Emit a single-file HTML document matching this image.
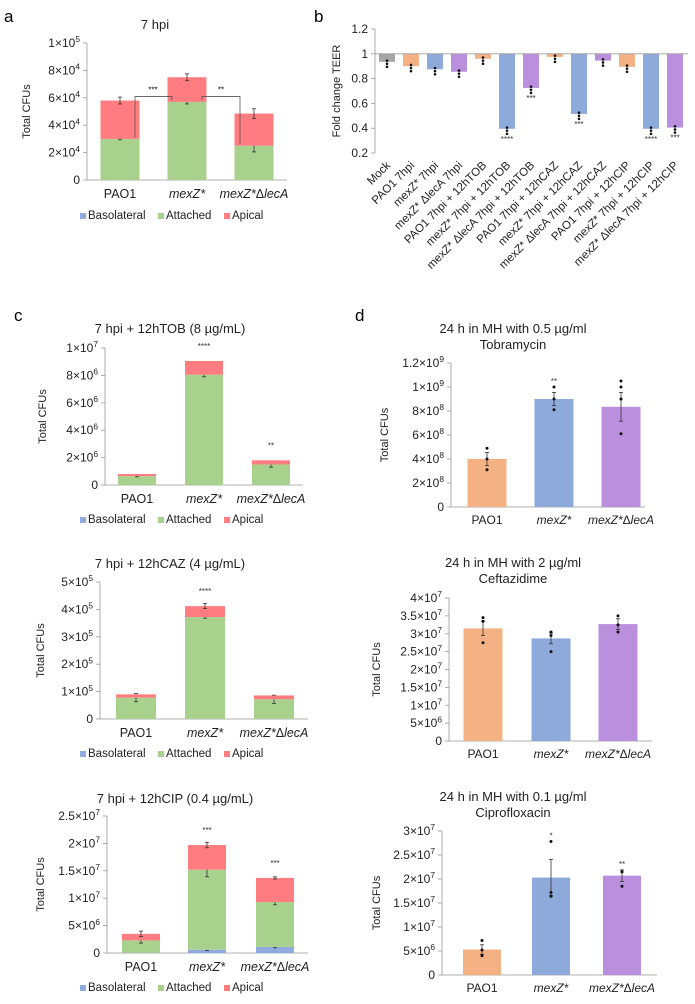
<!DOCTYPE html>
<html><head><meta charset="utf-8">
<style>
body{margin:0;background:#fff;width:695px;height:999px;overflow:hidden}
svg{font-family:"Liberation Sans",Arial,sans-serif}
</style></head>
<body>
<svg id="fig" width="695" height="999" viewBox="0 0 695 999" xmlns="http://www.w3.org/2000/svg">
<text x="4" y="22" font-size="17">a</text>
<text x="314" y="22" font-size="17">b</text>
<text x="14" y="321" font-size="17">c</text>
<text x="355" y="321" font-size="17">d</text>
</svg>
<script>
// ---------- data ----------
const strains = ["PAO1","mexZ*","mexZ*ΔlecA"];
// panel a (segments: basolateral, attached, apical)
const aBaso = [0,0,0];
const aAtt = [30000,57000,25000];
const aApi = [28000,18000,23500];
// panel c TOB
const tobBaso = [0,0,0];
const tobAtt = [650000,8050000,1500000];
const tobApi = [150000,1000000,300000];
// panel c CAZ
const cazBaso = [0,0,0];
const cazAtt = [78000,372000,72000];
const cazApi = [12000,40000,14000];
// panel c CIP
const cipBaso = [50000,600000,1100000];
const cipAtt = [2250000,14600000,8200000];
const cipApi = [1200000,4500000,4400000];
// panel b TEER
const teerLabels = ["Mock","PAO1 7hpi","mexZ* 7hpi","mexZ* ΔlecA 7hpi","PAO1 7hpi + 12hTOB","mexZ* 7hpi + 12hTOB","mexZ* ΔlecA 7hpi + 12hTOB","PAO1 7hpi + 12hCAZ","mexZ* 7hpi + 12hCAZ","mexZ* ΔlecA 7hpi + 12hCAZ","PAO1 7hpi + 12hCIP","mexZ* 7hpi + 12hCIP","mexZ* ΔlecA 7hpi + 12hCIP"];
const teerValues = [0.935,0.9,0.875,0.855,0.96,0.395,0.725,0.975,0.515,0.945,0.895,0.395,0.405];
const teerStars = ["","","","","","****","***","","***","","","****","***"];
// panel d
const dTob = [4.0e8,9.0e8,8.35e8];
const dTobErr = [0.55e8,0.55e8,1.2e8];
const dCaz = [3.15e7,2.87e7,3.27e7];
const dCazErr = [0.2e7,0.15e7,0.15e7];
const dCip = [0.53e7,2.03e7,2.07e7];
const dCipErr = [0.1e7,0.38e7,0.12e7];

const NS="http://www.w3.org/2000/svg";
const svg=document.getElementById('fig');
const COL={baso:"#8faadc",att:"#a9d18e",api:"#ff7c80",gray:"#a6a6a6",orange:"#f4b183",blue:"#8eaadb",purple:"#b98fde"};
function el(tag,attrs,parent){const e=document.createElementNS(NS,tag);for(const k in attrs)e.setAttribute(k,attrs[k]);(parent||svg).appendChild(e);return e;}
function sci(v){if(v===0)return null;const e=Math.floor(Math.log10(v)+1e-9);let m=v/Math.pow(10,e);m=Math.round(m*10)/10;return [m,e];}
function tickLabel(g,x,y,v,fs){
  const t=el('text',{x:x,y:y,'font-size':fs,'text-anchor':'end',fill:'#222'},g);
  
  
  const s=sci(v);
  if(!s){t.textContent="0";return;}
  const t1=el('tspan',{},t);t1.textContent=s[0]+"×10";
  const t2=el('tspan',{'font-size':fs*0.7,dy:-fs*0.4},t);t2.textContent=s[1];
}
function xLabels(g,xs,y,fs){
  strains.forEach((s,i)=>{
    const t=el('text',{x:xs[i],y:y,'font-size':fs,'text-anchor':'middle',fill:'#222'},g);
    
    
    if(i===0)t.textContent=s;
    else if(i===1){const a=el('tspan',{'font-style':'italic'},t);a.textContent="mexZ*";}
    else{const a=el('tspan',{'font-style':'italic'},t);a.textContent="mexZ*";const b=el('tspan',{},t);b.textContent="Δ";const c=el('tspan',{'font-style':'italic'},t);c.textContent="lecA";}
  });
}
function legend(g,cx,y){
  const items=[["Basolateral",COL.baso],["Attached",COL.att],["Apical",COL.api]];
  const widths=[70,58,40];let x=cx-95;
  items.forEach((it,i)=>{
    const r=el('rect',{x:x,y:y-6,width:6,height:6,fill:it[1]},g);
    
    
    const t=el('text',{x:x+8,y:y,'font-size':11.5,fill:'#222'},g);
    
    
    t.textContent=it[0];x+=widths[i]+8;
  });
}
function yAxisTitle(g,x,y,txt){
  const t=el('text',{x:x,y:y,'font-size':11,'text-anchor':'middle',transform:`rotate(-90 ${x} ${y})`,fill:'#222'},g);
  
  
  t.textContent=txt;
}
function errBar(g,x,y1,y2){
  el('line',{x1:x,x2:x,y1:y1,y2:y2,stroke:'#333','stroke-width':0.8},g);
  el('line',{x1:x-2,x2:x+2,y1:y1,y2:y1,stroke:'#333','stroke-width':0.8},g);
  el('line',{x1:x-2,x2:x+2,y1:y2,y2:y2,stroke:'#333','stroke-width':0.8},g);
}
function frame(name,f){
  const g=el('g',{});
  const y=v=>f.y0-(v/f.max)*(f.y0-f.yTop);
  el('line',{x1:f.ax,x2:f.ax,y1:f.yTop,y2:f.y0,stroke:'#999','stroke-width':0.8},g);
  el('line',{x1:f.ax,x2:f.right,y1:f.y0,y2:f.y0,stroke:'#999','stroke-width':0.8},g);
  f.ticks.forEach(v=>{el('line',{x1:f.ax-4,x2:f.ax,y1:y(v),y2:y(v),stroke:'#999','stroke-width':0.8},g);tickLabel(g,f.ax-7,y(v)+4,v,12);});
  return [g,y];
}
function stacked(name,f,segs,errs,stars){
  const [g,y]=frame(name,f);
  const cols=[COL.baso,COL.att,COL.api];
  strains.forEach((s,i)=>{
    let cum=0;
    segs.forEach((arr,k)=>{
      if(arr[i]<=0)return;
      const r=el('rect',{x:f.xs[i]-f.bw/2,y:y(cum+arr[i]),width:f.bw,height:y(cum)-y(cum+arr[i]),fill:cols[k]},g);
      
      
      cum+=arr[i];
      const e=errs[k][i];if(e>0)errBar(g,f.xs[i],y(cum-e),y(cum+e));
    });
    if(stars[i]){const t=el('text',{x:f.xs[i],y:y(cum)-12,'font-size':8,'text-anchor':'middle',fill:'#333'},g);t.textContent=stars[i];}
  });
  xLabels(g,f.xs,f.labY,12.5);
  legend(g,f.legCx,f.legY);
  const t=el('text',{x:f.tx,y:f.ty,'font-size':13,'text-anchor':'middle',fill:'#222'},g);
  
  
  t.textContent=f.title;
  yAxisTitle(g,f.ytx,(f.yTop+f.y0)/2,"Total CFUs");
  return [g,y];
}
function simple(name,f,vals,errs,pts,stars){
  const [g,y]=frame(name,f);
  const cols=[COL.orange,COL.blue,COL.purple];
  vals.forEach((v,i)=>{
    const r=el('rect',{x:f.xs[i]-f.bw/2,y:y(v),width:f.bw,height:f.y0-y(v),fill:cols[i]},g);
    
    
    errBar(g,f.xs[i],y(v-errs[i]),y(v+errs[i]));
    pts[i].forEach(p=>el('circle',{cx:f.xs[i],cy:y(p),r:1.5,fill:'#111'},g));
    if(stars[i]){const t=el('text',{x:f.xs[i],y:y(Math.max(v+errs[i],...pts[i]))-3,'font-size':8,'text-anchor':'middle',fill:'#333'},g);t.textContent=stars[i];}
  });
  xLabels(g,f.xs,f.labY,12);
  f.title.forEach((line,k)=>{
    const t=el('text',{x:f.tx,y:f.ty+k*16,'font-size':13,'text-anchor':'middle',fill:'#222'},g);
    
    
    t.textContent=line;
  });
  yAxisTitle(g,f.ytx,(f.yTop+f.y0)/2,"Total CFUs");
}
// panel a
(function(){
  const [g,y]=stacked('chart-a-7hpi',{ax:87,yTop:43,y0:180,right:287,max:1e5,ticks:[0,2e4,4e4,6e4,8e4,1e5],xs:[120,187,254],bw:39,labY:198,legCx:175,legY:219,tx:155,ty:29,title:"7 hpi",ytx:30},
    [aBaso,aAtt,aApi],[[0,0,0],[600,1500,4500],[2500,2500,3500]],["","",""]);
  const yb=y(61000);
  el('path',{d:`M135 ${y(31000)} V${yb} H172 V${yb+4}`,fill:'none',stroke:'#555','stroke-width':0.8},g);
  el('path',{d:`M202 ${yb+4} V${yb} H240 V${y(26000)}`,fill:'none',stroke:'#555','stroke-width':0.8},g);
  const s1=el('text',{x:153,y:yb-4,'font-size':8,'text-anchor':'middle'},g);s1.textContent="***";
  const s2=el('text',{x:221,y:yb-4,'font-size':8,'text-anchor':'middle'},g);s2.textContent="**";
})();
// panel b
(function(){
  const g=el('g',{});
  const ax=375,yTop=29,y0=153;
  const y=v=>y0-((v-0.2)/1.0)*(y0-yTop);
  const x=i=>387+i*24;
  const cols=[COL.gray,COL.orange,COL.blue,COL.purple,COL.orange,COL.blue,COL.purple,COL.orange,COL.blue,COL.purple,COL.orange,COL.blue,COL.purple];
  el('line',{x1:ax,x2:ax,y1:yTop,y2:y0,stroke:'#999','stroke-width':0.8},g);
  [0.2,0.4,0.6,0.8,1,1.2].forEach(v=>{
    el('line',{x1:ax-4,x2:ax,y1:y(v),y2:y(v),stroke:'#999','stroke-width':0.8},g);
    const t=el('text',{x:ax-7,y:y(v)+4,'font-size':12,'text-anchor':'end',fill:'#222'},g);
    
    
    t.textContent=String(v);
  });
  teerValues.forEach((v,i)=>{
    const r=el('rect',{x:x(i)-8,y:y(1),width:16,height:y(v)-y(1),fill:cols[i]},g);
    
    
    [v-0.015,v+0.01,v-0.04].forEach(p=>el('circle',{cx:x(i),cy:y(p),r:1.3,fill:'#111'},g));
    if(teerStars[i]){const t=el('text',{x:x(i),y:y(v)+13,'font-size':8,'text-anchor':'middle',fill:'#333'},g);t.textContent=teerStars[i];}
    const lx=x(i)+4,ly=166;
    const t=el('text',{x:lx,y:ly,'font-size':11.5,'text-anchor':'end',transform:`rotate(-45 ${lx} ${ly})`,fill:'#222'},g);
    
    
    t.textContent=teerLabels[i];
  });
  el('line',{x1:ax,x2:688,y1:y(1),y2:y(1),stroke:'#999','stroke-width':0.8},g);
  yAxisTitle(g,340,(yTop+y0)/2,"Fold change TEER");
})();
// panel c
stacked('chart-c-tob',{ax:105,yTop:348,y0:485,right:303,max:1e7,ticks:[0,2e6,4e6,6e6,8e6,1e7],xs:[137,204,271],bw:38,labY:503,legCx:175,legY:523,tx:170,ty:333,title:"7 hpi + 12hTOB (8 µg/mL)",ytx:46},
  [tobBaso,tobAtt,tobApi],[[0,0,0],[50000,150000,200000],[0,0,0]],["","****","**"]);
stacked('chart-c-caz',{ax:100,yTop:582,y0:719,right:308,max:5e5,ticks:[0,1e5,2e5,3e5,4e5,5e5],xs:[136,205,274],bw:40,labY:737,legCx:175,legY:757,tx:170,ty:568,title:"7 hpi + 12hCAZ (4 µg/mL)",ytx:44},
  [cazBaso,cazAtt,cazApi],[[0,0,0],[15000,4000,15000],[0,9000,0]],["","****",""]);
stacked('chart-c-cip',{ax:107,yTop:816,y0:953,right:308,max:2.5e7,ticks:[0,5e6,1e7,1.5e7,2e7,2.5e7],xs:[141,207,275],bw:38,labY:971,legCx:175,legY:991,tx:175,ty:803,title:"7 hpi + 12hCIP (0.4 µg/mL)",ytx:44},
  [cipBaso,cipAtt,cipApi],[[0,150000,150000],[500000,1300000,500000],[500000,500000,200000]],["","***","***"]);
// panel d
simple('chart-d-tob',{ax:451,yTop:363,y0:507,right:645,max:1.2e9,ticks:[0,2e8,4e8,6e8,8e8,1e9,1.2e9],xs:[487,554,621],bw:39,labY:524,tx:513,ty:333,title:["24 h in MH with 0.5 µg/ml","Tobramycin"],ytx:388},
  dTob,dTobErr,[[4.9e8,4.0e8,3.1e8],[10e8,9e8,8.1e8],[10.5e8,10e8,9e8,6.1e8]],["","**",""]);
simple('chart-d-caz',{ax:449,yTop:598,y0:741,right:652,max:4e7,ticks:[0,5e6,1e7,1.5e7,2e7,2.5e7,3e7,3.5e7,4e7],xs:[483,551,618],bw:39,labY:758,tx:513,ty:567,title:["24 h in MH with 2 µg/ml","Ceftazidime"],ytx:380},
  dCaz,dCazErr,[[3.45e7,3.35e7,2.75e7],[3.05e7,2.95e7,2.5e7],[3.5e7,3.25e7,3.05e7]],["","",""]);
simple('chart-d-cip',{ax:442,yTop:831,y0:975,right:657,max:3e7,ticks:[0,5e6,1e7,1.5e7,2e7,2.5e7,3e7],xs:[482,551,622],bw:38,labY:992,tx:513,ty:801,title:["24 h in MH with 0.1 µg/ml","Ciprofloxacin"],ytx:380},
  dCip,dCipErr,[[7.2e6,5.2e6,4e6],[2.78e7,1.72e7,1.64e7],[2.15e7,2.15e7,1.85e7]],["","*","**"]);
</script>
</body></html>
